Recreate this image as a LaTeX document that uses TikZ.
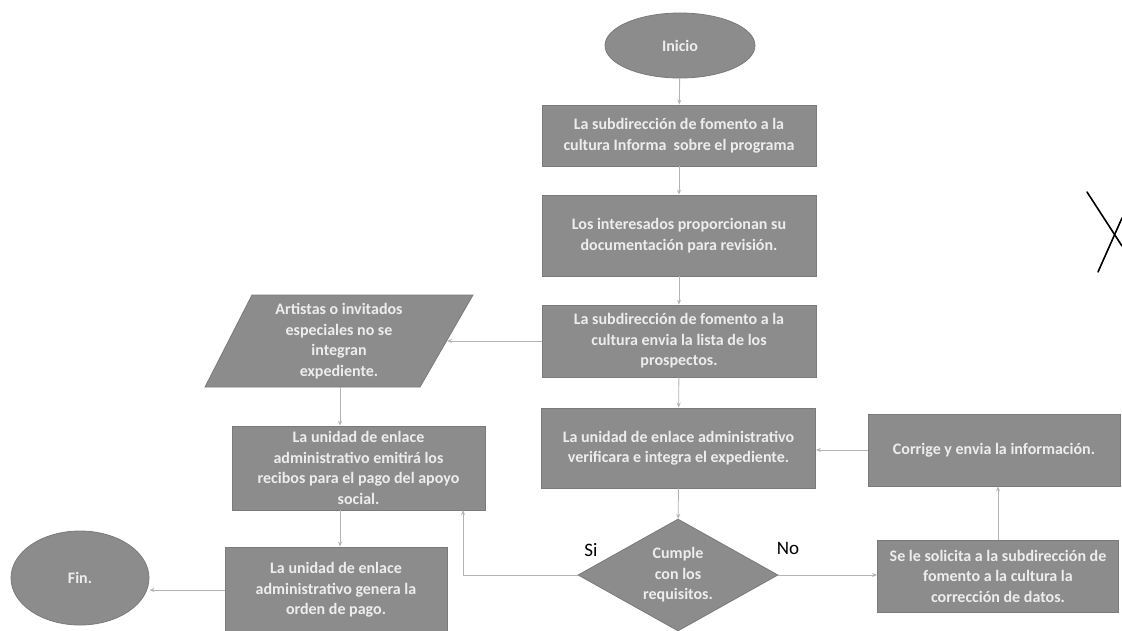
\documentclass[tikz,border=0pt]{standalone}
\usepackage{fontspec}
\setmainfont{Carlito}
\usetikzlibrary{shapes.geometric,arrows.meta}
\definecolor{boxfill}{HTML}{8C8C8C}
\definecolor{boxline}{HTML}{7A7A7A}
\definecolor{boxtext}{HTML}{EDEDED}
\definecolor{conn}{HTML}{B4B4B4}
\tikzset{
  boxfont/.style={font=\fontsize{16}{20.5}\selectfont\bfseries},
  procbox/.style={draw=boxline, fill=boxfill, line width=0.8pt, text=boxtext,
    boxfont, align=center, inner sep=2pt},
  term/.style={ellipse, draw=boxline, fill=boxfill, line width=0.8pt, text=boxtext,
    boxfont, inner sep=0pt},
  decision/.style={diamond, draw=boxline, fill=boxfill, line width=0.8pt, text=boxtext,
    boxfont, align=center, inner sep=0pt, aspect=2},
  flow/.style={draw=conn, line width=0.9pt, -{Stealth[length=5pt,width=4pt]}},
  lbl/.style={font=\fontsize{19}{22}\selectfont, text=black}
}
\begin{document}
\begin{tikzpicture}[x=1pt,y=-1pt]
\useasboundingbox (0,0) rectangle (1122,631);
% terminals
\node[term, minimum width=150pt, minimum height=65pt] (inicio) at (680,45.5) {Inicio};
\node[term, minimum width=138pt, minimum height=94pt] (fin) at (80,578) {Fin.};
% main column
\node[procbox, minimum width=274pt, minimum height=61pt] (b1) at (679,135.5)
  {La subdirección de fomento a la\\cultura Informa\ \ sobre el programa};
\node[procbox, minimum width=274pt, minimum height=81pt] (b2) at (679,235.5)
  {Los interesados proporcionan su\\documentación para revisión.};
\node[procbox, minimum width=274pt, minimum height=72pt] (b3) at (679,341)
  {La subdirección de fomento a la\\cultura envia la lista de los\\prospectos.};
\node[procbox, minimum width=274pt, minimum height=80pt] (b4) at (678.5,448)
  {La unidad de enlace administrativo\\verificara e integra el expediente.};
\node[decision, minimum width=200pt, minimum height=112pt] (dec) at (678,575)
  {Cumple\\con los\\requisitos.};
% right column
\node[procbox, minimum width=252pt, minimum height=72pt] (corr) at (994,450)
  {Corrige y envia la información.};
\node[procbox, minimum width=241pt, minimum height=72pt] (sol) at (998,576)
  {Se le solicita a la subdirección de\\fomento a la cultura la\\corrección de datos.};
% left column
\fill[boxfill, draw=boxline, line width=0.8pt] (252,295) -- (473,295) -- (420,387) -- (205,387) -- cycle;
\node[text=boxtext, boxfont, align=center] (para) at (339,341)
  {Artistas o invitados\\especiales no se\\integran\\expediente.};
\coordinate (paraR) at (447,341);
\coordinate (paraB) at (340,387);
\node[procbox, minimum width=253pt, minimum height=84pt] (emit) at (358.5,468)
  {La unidad de enlace\\administrativo emitirá los\\recibos para el pago del apoyo\\social.};
\node[procbox, minimum width=222pt, minimum height=86pt] (gen) at (336,590)
  {La unidad de enlace\\administrativo genera la\\orden de pago.};
\coordinate (emitIn) at (463,510);
% labels
\node[lbl] (si) at (591,550) {Si};
\node[lbl] (no) at (788,548) {No};
% connectors
\draw[flow] (inicio) -- (b1);
\draw[flow] (b1) -- (b2);
\draw[flow] (b2) -- (b3);
\draw[flow] (b3) -- (b4);
\draw[flow] (b4) -- (dec);
\draw[flow] (b3.west) -- (paraR);
\draw[flow] (paraB) -- (emit.north -| paraB);
\draw[flow] (emit.south -| paraB) -- (gen.north -| paraB);
\draw[flow] (gen.west) -- (gen.west -| fin.east);
\draw[flow] (dec.west) -| (emitIn);
\draw[flow] (dec.east) -- (dec.east -| sol.west);
\draw[flow] (sol.north) -- (sol.north |- corr.south);
\draw[flow] (corr.west) -- (corr.west -| b4.east);
% handwritten mark
\draw[black, line width=1.6pt, line cap=round] (1087,192) -- (1122,246);
\draw[black, line width=1.6pt, line cap=round] (1098,272) -- (1122,218);
\end{tikzpicture}
\end{document}
